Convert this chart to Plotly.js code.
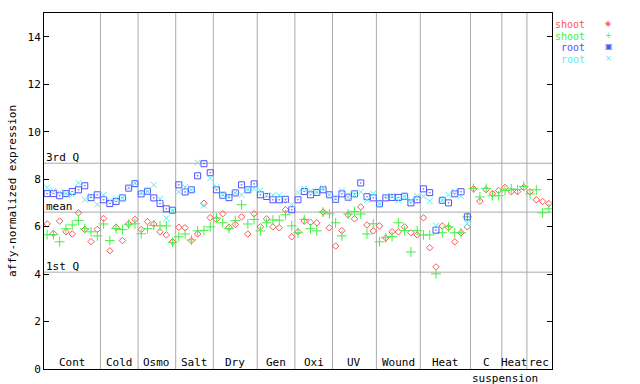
<!DOCTYPE html>
<html><head><meta charset="utf-8">
<script src="https://cdn.plot.ly/plotly-3.0.1.min.js"></script>
<style>body{margin:0;background:#fff}</style>
</head><body><div id="chart" style="width:640px;height:384px"></div>
<script>
const groupNames = ['Cont','Cold','Osmo','Salt','Dry','Gen','Oxi','UV','Wound','Heat','C suspension','Heat','rec'];
const groupSizes = [9,6,6,6,7,6,6,7,7,8,5,4,4];

const shootRed = [6.11,5.71,6.23,5.78,5.69,6.58,5.88,5.37,5.88,
  6.34,4.98,5.97,5.41,6.11,6.30,
  5.88,6.21,6.11,5.78,5.65,5.36,
  5.97,5.95,5.41,5.69,6.98,6.38,
  6.30,6.54,5.97,6.09,6.41,5.69,6.54,
  5.99,6.33,5.99,5.95,6.71,5.57,
  5.78,6.23,6.18,6.16,6.61,5.95,
  5.18,5.83,6.50,6.33,6.83,6.07,5.82,
  6.03,5.52,5.78,5.78,5.99,5.74,5.65,
  6.37,5.11,4.30,6.03,5.96,5.36,5.74,5.99,
  7.59,7.07,7.56,7.39,7.52,
  7.65,7.47,7.47,7.65,
  7.47,7.13,7.06,6.97];
const shootGreen = [5.66,5.66,5.36,5.91,6.07,6.26,5.91,5.78,5.61,
  6.11,5.41,5.92,5.87,6.10,6.12,
  5.70,5.91,6.05,6.03,6.03,5.34,
  5.57,5.69,5.44,5.82,5.84,5.99,
  6.36,6.16,5.92,6.25,6.92,6.11,6.30,
  5.82,6.16,6.28,6.27,6.50,6.03,
  5.74,6.30,5.91,5.82,6.61,6.54,
  6.16,5.61,6.53,6.64,6.53,5.69,6.12,
  5.36,5.53,5.58,6.16,5.83,4.93,5.83,
  5.65,5.65,4.01,5.74,5.99,5.74,5.74,6.41,
  7.61,7.25,7.61,7.30,7.30,
  7.52,7.59,7.56,7.69,
  7.38,7.55,6.58,6.75];
const rootBlue = [7.39,7.39,7.30,7.39,7.48,7.55,7.72,7.22,7.34,
  7.13,6.97,7.06,7.21,7.62,7.81,
  7.38,7.49,7.21,6.97,6.75,6.69,
  7.76,7.46,7.55,8.14,8.65,8.27,
  7.55,7.32,7.22,7.42,7.76,7.55,7.80,
  7.34,7.27,7.13,7.13,7.15,6.71,
  7.13,7.48,7.34,7.44,7.55,7.34,
  7.15,7.38,7.24,7.38,7.84,7.26,7.21,
  6.96,7.21,7.23,7.23,7.28,7.00,7.13,
  7.59,7.43,5.85,7.11,7.00,7.38,7.47,6.41,
  null,null,null,null,null,null,null,null,null,null,null,null,null];
const rootCyan = [7.65,7.51,7.44,7.39,7.34,7.84,7.13,7.28,6.93,
  7.33,7.10,7.18,7.20,7.65,7.83,
  7.42,7.49,7.76,7.17,6.35,6.67,
  7.47,7.67,7.55,8.69,6.89,8.03,
  7.67,7.34,7.28,7.42,7.34,7.56,7.60,
  7.52,7.31,7.32,7.32,7.10,6.92,
  7.44,7.60,7.49,7.45,7.63,7.34,
  7.20,7.52,7.24,7.35,7.46,7.11,7.39,
  6.96,7.28,7.28,7.10,7.28,7.11,7.28,
  7.28,7.07,6.04,7.11,7.34,7.49,7.28,6.13,
  null,null,null,null,null,null,null,null,null,null,null,null,null];

const refLabels = ['3rd Q','mean','1st Q'];
const refValues = [8.67, 6.61, 4.08];
const legendNames = ['shoot','shoot','root','root'];
const yTicks = [0,2,4,6,8,10,12,14];

const FONT = 'DejaVu Sans Mono, monospace';
const colors = ['#ff5555','#44ee44','#5050ff','#55f0f0'];
const symbols = ['diamond-open','cross-thin-open','square-open-dot','x-thin-open'];
const sizes = [5,7,6,6];
const legendGlyphs = ['\u25C8','+','\u25A3','\u00D7'];

const nSamples = groupSizes.reduce((a,b)=>a+b,0);
const xs = Array.from({length:nSamples},(_,i)=>i+1);
const series = [shootRed, shootGreen, rootBlue, rootCyan];

const traces = series.map((s,k)=>({
  x: xs, y: s, type:'scatter', mode:'markers', showlegend:false,
  marker:{symbol:symbols[k], size:sizes[k], color:colors[k], line:{color:colors[k], width:1}},
  hoverinfo:'skip'
}));

const shapes = [];
const annotations = [];
let start = 0.5;
groupSizes.forEach((n,g)=>{
  const end = start + n;
  if (g < groupSizes.length-1) {
    shapes.push({type:'line', xref:'x', yref:'paper', x0:end, x1:end, y0:0, y1:1,
      line:{color:'#aaaaaa', width:1}, layer:'below'});
  }
  const parts = groupNames[g].split(' ');
  annotations.push({xref:'x', yref:'y', x:(start+end)/2, y:0, yanchor:'bottom', yshift:-2,
    text:parts[0], showarrow:false, font:{family:FONT, size:11, color:'#000'}});
  if (parts.length > 1) {
    annotations.push({xref:'x', yref:'paper', x:start, y:0, xanchor:'left', yanchor:'top', yshift:-1,
      text:parts.slice(1).join(' '), showarrow:false, font:{family:FONT, size:11, color:'#000'}});
  }
  start = end;
});
refValues.forEach((v,i)=>{
  shapes.push({type:'line', xref:'paper', yref:'y', x0:0, x1:1, y0:v, y1:v,
    line:{color:'#aaaaaa', width:1}, layer:'below'});
  annotations.push({xref:'paper', yref:'y', x:0, y:v, xanchor:'left', yanchor:'bottom', yshift:-3,
    text:refLabels[i], showarrow:false, font:{family:FONT, size:11, color:'#000'}});
});
legendNames.forEach((name,k)=>{
  annotations.push({xref:'paper', yref:'paper', x:1.066, y:1-(k*11.5)/356, xanchor:'right', yanchor:'top', yshift:-5,
    text:name, showarrow:false, borderpad:0, font:{family:FONT, size:10, color:colors[k]}});
  annotations.push({xref:'paper', yref:'paper', x:1.112, y:1-(k*11.5)/356, xanchor:'center', yanchor:'top', yshift:-5,
    text:legendGlyphs[k], showarrow:false, borderpad:0, font:{family:'DejaVu Sans', size:8, color:colors[k]}});
});

const layout = {
  width:640, height:384,
  margin:{l:44, r:88, t:13, b:15, pad:0},
  paper_bgcolor:'#fff', plot_bgcolor:'#fff',
  font:{family:FONT, size:11, color:'#000'},
  xaxis:{range:[0.5, nSamples+0.5], showline:true, linecolor:'#000', linewidth:1, mirror:true,
    showticklabels:false, ticks:'', showgrid:false, zeroline:false, fixedrange:true},
  yaxis:{range:[0,15], tickvals:yTicks, ticktext:yTicks.map(String), ticks:'inside', ticklen:5, tickcolor:'#000',
    showline:true, linecolor:'#000', linewidth:1, mirror:'ticks', showgrid:false, zeroline:false,
    tickfont:{family:FONT, size:11, color:'#000'},
    title:{text:'affy-normalized expression', font:{family:FONT, size:11, color:'#000'}, standoff:8}},
  shapes:shapes, annotations:annotations
};
Plotly.newPlot('chart', traces, layout, {staticPlot:true, displayModeBar:false});
</script></body></html>
